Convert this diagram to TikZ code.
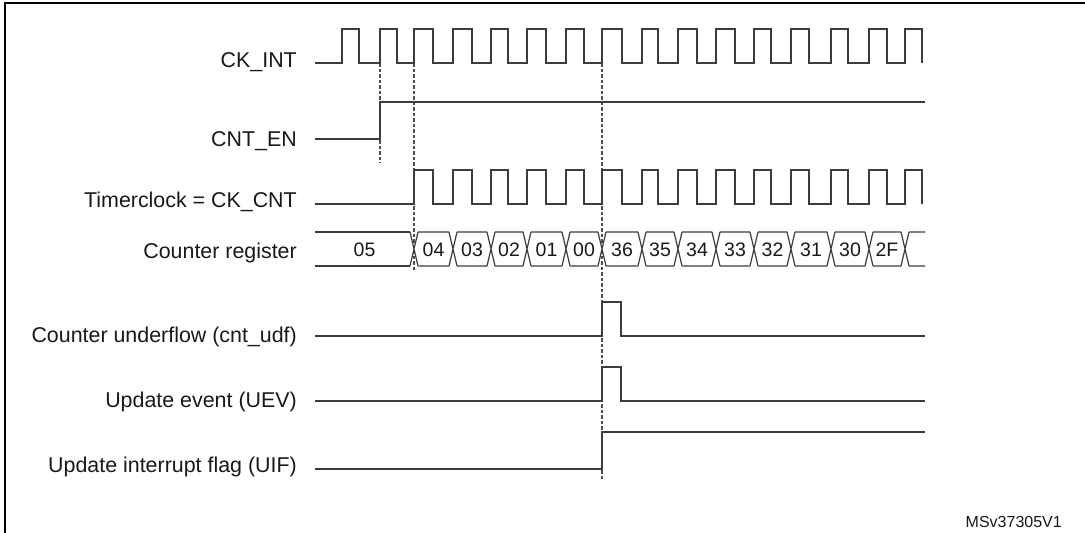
\documentclass[tikz,border=0pt]{standalone}
\usepackage{fontspec}
\setmainfont{Liberation Sans}
\definecolor{sigc}{RGB}{60,60,60}
\definecolor{guidec}{RGB}{80,80,80}
\definecolor{txtc}{RGB}{25,25,25}
\begin{document}
\begin{tikzpicture}[x=1pt,y=-1pt,
  sig/.style={draw=sigc, line width=1.2pt, line join=miter},
  guide/.style={draw=guidec, line width=1.2pt, dash pattern=on 3.5pt off 2pt},
  lbl/.style={anchor=base east, font=\fontsize{21.4}{25}\selectfont, text=txtc, inner sep=0pt},
  val/.style={font=\fontsize{19.5}{23}\selectfont, text=txtc, inner sep=0pt}]
\useasboundingbox (0,0) rectangle (1085,533);
\fill[white] (0,0) rectangle (1085,533);
\draw[line width=2pt, black] (5,533) -- (5,2.5) -- (1085,2.5);

% labels
\node[lbl] (lckint) at (297,67.5) {CK\_INT};
\node[lbl] (lcnten) at (297,146.5) {CNT\_EN};
\node[lbl] (ltim) at (297,207) {Timerclock = CK\_CNT};
\node[lbl] (lreg) at (297,258) {Counter register};
\node[lbl] (ludf) at (297,342) {Counter underflow (cnt\_udf)};
\node[lbl] (luev) at (297,407) {Update event (UEV)};
\node[lbl] (luif) at (297,472) {Update interrupt flag (UIF)};
\node[anchor=base east, font=\fontsize{16}{19}\selectfont, text=txtc, inner sep=0pt] (ref) at (1062,527) {MSv37305V1};

% guide lines
\draw[guide] (380,63) -- (380,163);
\draw[guide] (414,63) -- (414,270);
\draw[guide] (602,63) -- (602,479);

% CK_INT
\draw[sig] (315,63) foreach \r/\f in {342/359,380/397,414/433,453/472,491/508,527/546,566/584,602/622,642/658,678/697,716/735,754/771,791/809,831/848,869/887,905/922}{ -- (\r,63) -- (\r,29) -- (\f,29) -- (\f,63)};

% CNT_EN
\draw[sig] (315,139) -- (380,139) -- (380,102) -- (925,102);

% Timer clock
\draw[sig] (315,204) foreach \r/\f in {414/433,453/472,491/508,527/546,566/584,602/622,642/658,678/697,716/735,754/771,791/809,831/848,869/887,905/922}{ -- (\r,204) -- (\r,170) -- (\f,170) -- (\f,204)};

% Counter register
\draw[sig] (315,232) -- (410,232) (315,266) -- (410,266);
\foreach \t/\n in {414/453,453/491,491/527,527/566,566/602,602/642,642/678,678/716,716/754,754/791,791/831,831/869,869/905,905/929}
  \draw[sig] ({\t-4},232) -- ({\t+4},266) ({\t-4},266) -- ({\t+4},232)
             ({\t+4},232) -- ({\n-4},232) ({\t+4},266) -- ({\n-4},266);
\foreach \x/\v in {364.5/05,433.5/04,472/03,509/02,546.5/01,584/00,622/36,660/35,697/34,735/33,772.5/32,811/31,850/30,887/2F}
  \node[val] (v\v) at (\x,250) {\v};

% cnt_udf
\draw[sig] (315,336) -- (602,336) -- (602,302) -- (621,302) -- (621,336) -- (925,336);
% UEV
\draw[sig] (315,401) -- (602,401) -- (602,367) -- (621,367) -- (621,401) -- (925,401);
% UIF
\draw[sig] (315,469) -- (602,469) -- (602,432) -- (925,432);
\end{tikzpicture}
\end{document}
